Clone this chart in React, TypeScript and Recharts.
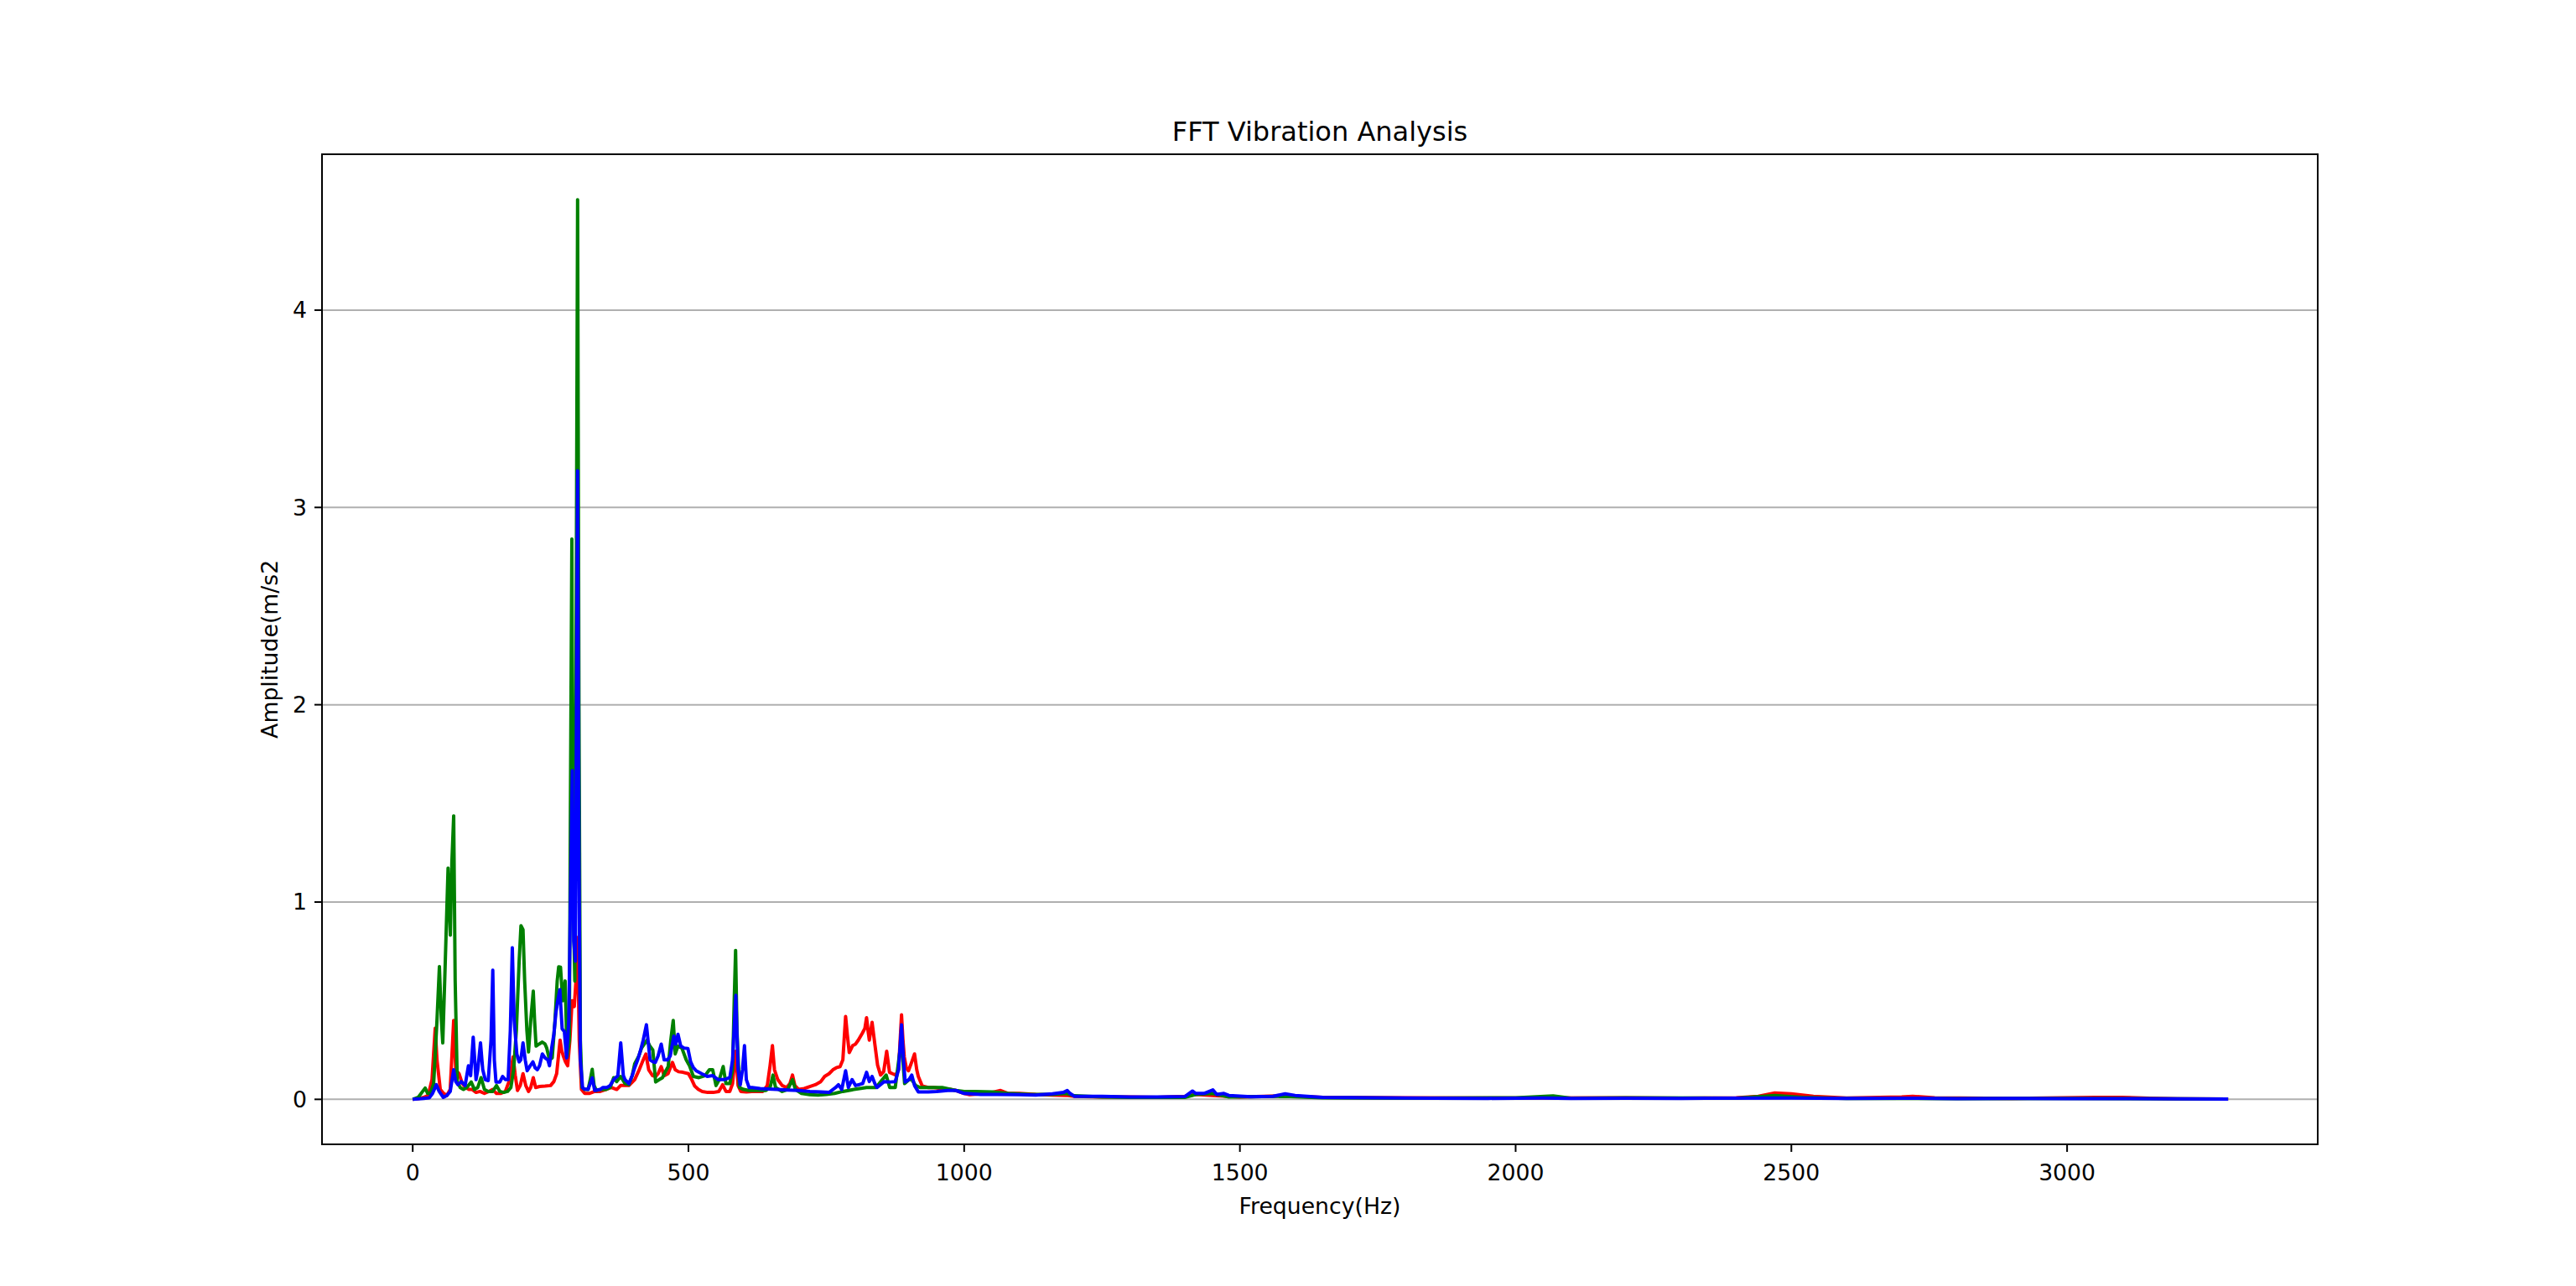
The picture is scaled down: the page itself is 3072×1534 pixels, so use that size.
import React from "react";
import { LineChart, Line, XAxis, YAxis, CartesianGrid, ReferenceArea } from "recharts";

const X_TICKS = [0, 500, 1000, 1500, 2000, 2500, 3000];
const Y_TICKS = [0, 1, 2, 3, 4];

// red channel
const redFreq = [0, 10, 20, 28, 35, 40.8, 44, 50, 56, 62, 68, 74.3, 78, 84, 90, 96, 102, 108, 115, 122, 130, 138, 145, 152, 160, 168, 176, 182, 186, 190, 195, 200, 205, 210, 214, 218.6, 223, 230, 240, 250, 256, 261, 267.3, 270, 273, 277, 281, 285, 289, 293, 296, 299, 302, 306, 312, 320, 330, 340, 350, 360, 370, 377, 385, 392, 402.5, 410, 418, 422.8, 428, 435, 440.5, 445, 450.6, 456, 463, 471, 476, 482, 490, 500, 506, 511.4, 518, 525, 535, 545, 555, 562, 568, 575, 580, 585.5, 590, 595, 605, 615, 625, 635, 643, 648, 652.3, 656, 662, 670, 678, 684, 688.7, 693, 700, 710, 720, 730, 740, 747, 755, 762, 768, 775, 780, 785, 788, 791.6, 797.7, 803, 808, 815.5, 820, 823, 826, 828, 833, 838, 843, 848.4, 854, 859.5, 864.6, 870, 876, 881, 886.4, 889, 891.4, 895, 899, 905, 910, 914, 916.8, 924, 935, 945, 960, 975, 985, 1000, 1010, 1030, 1050, 1066, 1080, 1100, 1130, 1160, 1185, 1200, 1250, 1300, 1350, 1400, 1420, 1450, 1500, 1580, 1650, 1800, 2000, 2200, 2300, 2400, 2440, 2470, 2500, 2540, 2600, 2700, 2720, 2760, 2900, 3050, 3100, 3150, 3200, 3292];
const redAmp = [0, 0.003, 0.01, 0.02, 0.1, 0.36, 0.2, 0.05, 0.03, 0.02, 0.05, 0.4, 0.15, 0.13, 0.08, 0.06, 0.05, 0.05, 0.035, 0.04, 0.03, 0.04, 0.05, 0.03, 0.03, 0.04, 0.1, 0.215, 0.12, 0.045, 0.07, 0.13, 0.07, 0.04, 0.06, 0.11, 0.06, 0.065, 0.067, 0.07, 0.09, 0.13, 0.3, 0.25, 0.22, 0.19, 0.17, 0.3, 0.5, 0.47, 0.6, 0.82, 0.3, 0.05, 0.03, 0.03, 0.04, 0.04, 0.05, 0.06, 0.05, 0.07, 0.07, 0.07, 0.1, 0.145, 0.2, 0.23, 0.15, 0.12, 0.116, 0.13, 0.166, 0.12, 0.13, 0.187, 0.15, 0.14, 0.137, 0.13, 0.1, 0.067, 0.05, 0.04, 0.035, 0.035, 0.04, 0.074, 0.04, 0.04, 0.08, 0.244, 0.07, 0.04, 0.038, 0.04, 0.04, 0.04, 0.07, 0.17, 0.272, 0.15, 0.1, 0.07, 0.06, 0.08, 0.123, 0.07, 0.05, 0.055, 0.065, 0.074, 0.09, 0.116, 0.13, 0.15, 0.16, 0.166, 0.2, 0.42, 0.33, 0.237, 0.272, 0.28, 0.3, 0.336, 0.36, 0.414, 0.34, 0.3, 0.39, 0.28, 0.173, 0.123, 0.14, 0.244, 0.137, 0.13, 0.123, 0.15, 0.428, 0.3, 0.215, 0.16, 0.145, 0.19, 0.23, 0.15, 0.116, 0.067, 0.06, 0.06, 0.055, 0.05, 0.045, 0.03, 0.024, 0.028, 0.035, 0.045, 0.03, 0.03, 0.025, 0.022, 0.02, 0.015, 0.012, 0.012, 0.01, 0.015, 0.025, 0.02, 0.012, 0.018, 0.01, 0.008, 0.007, 0.008, 0.006, 0.008, 0.015, 0.032, 0.028, 0.015, 0.007, 0.012, 0.015, 0.008, 0.005, 0.01, 0.01, 0.006, 0.003, 0.001];

// green channel
const greenFreq = [0, 10, 18, 22.6, 27, 32, 38, 44, 48.4, 52, 54.5, 58, 64.1, 68.2, 71, 74.3, 77, 80.8, 86, 92, 98, 106, 112, 118, 124, 130, 137, 145, 152, 158, 165, 172, 178, 183, 188, 193, 196.3, 200, 203, 207, 210, 214, 218.6, 221, 223.7, 229, 235, 240, 243, 248, 253, 258, 262, 264.7, 268, 272, 276.4, 280, 284, 286, 288.6, 291, 294, 296.5, 299, 301.5, 304, 307, 312, 318, 322, 325.5, 329, 333, 340, 350, 358, 364.5, 370, 377, 385, 392, 398, 402.5, 410, 415, 420, 425, 430, 435.4, 440.5, 447, 453, 458, 463.3, 468, 472.4, 476, 481, 488, 496, 502, 509, 519, 530, 538, 544, 550, 556, 563, 568, 575, 580, 583, 585.5, 588, 592.5, 600, 610, 620, 630, 640, 648, 653.3, 658, 670, 680, 688.7, 694, 705, 720, 735, 750, 765, 780, 800, 823, 840, 858.5, 865, 875, 886, 892, 900, 905, 912, 920, 940, 960, 985, 1000, 1020, 1051, 1080, 1120, 1160, 1185, 1200, 1250, 1300, 1400, 1420, 1450, 1480, 1580, 1650, 1800, 2000, 2068, 2100, 2200, 2400, 2470, 2520, 2600, 2800, 3000, 3200, 3292];
const greenAmp = [0, 0.01, 0.04, 0.057, 0.03, 0.03, 0.08, 0.4, 0.673, 0.4, 0.286, 0.6, 1.172, 0.832, 1.2, 1.437, 0.6, 0.09, 0.06, 0.05, 0.06, 0.088, 0.05, 0.06, 0.11, 0.05, 0.04, 0.04, 0.07, 0.04, 0.035, 0.04, 0.06, 0.15, 0.35, 0.7, 0.88, 0.86, 0.6, 0.35, 0.24, 0.4, 0.548, 0.4, 0.27, 0.28, 0.29, 0.28, 0.26, 0.2, 0.21, 0.4, 0.6, 0.672, 0.67, 0.5, 0.6, 0.215, 0.3, 1.5, 2.84, 1.0, 0.6, 2.5, 4.56, 2.0, 0.3, 0.06, 0.05, 0.05, 0.1, 0.152, 0.07, 0.045, 0.05, 0.05, 0.06, 0.11, 0.09, 0.116, 0.08, 0.074, 0.12, 0.18, 0.22, 0.26, 0.28, 0.3, 0.27, 0.25, 0.088, 0.1, 0.11, 0.14, 0.166, 0.3, 0.4, 0.23, 0.27, 0.26, 0.2, 0.17, 0.116, 0.11, 0.12, 0.15, 0.15, 0.07, 0.1, 0.166, 0.08, 0.08, 0.15, 0.5, 0.755, 0.35, 0.06, 0.05, 0.045, 0.045, 0.045, 0.045, 0.06, 0.123, 0.06, 0.04, 0.05, 0.1, 0.05, 0.03, 0.024, 0.022, 0.025, 0.03, 0.04, 0.05, 0.06, 0.06, 0.123, 0.06, 0.06, 0.3, 0.08, 0.1, 0.1, 0.07, 0.06, 0.06, 0.06, 0.045, 0.04, 0.04, 0.038, 0.03, 0.025, 0.025, 0.03, 0.018, 0.012, 0.01, 0.01, 0.025, 0.03, 0.012, 0.015, 0.008, 0.006, 0.008, 0.017, 0.006, 0.008, 0.006, 0.02, 0.01, 0.005, 0.004, 0.005, 0.003, 0.001];

// blue channel
const blueFreq = [0, 10, 20, 30, 36, 42.9, 48, 55.5, 62, 68, 74.3, 78, 82, 88, 95, 101, 105, 109.7, 114.8, 118, 122.9, 127, 131.5, 137, 142, 145.2, 148, 151, 158, 163, 168, 173, 177, 180.6, 184, 188.8, 193, 196, 200, 204, 207.5, 213, 218, 222, 226, 230, 235, 240, 245, 248, 252, 256, 259.7, 263, 266.8, 269, 271, 275, 279, 283, 286, 289.4, 292, 295, 297, 299, 301.5, 304, 308, 311, 318, 325.5, 330, 340, 345, 352, 358, 364.5, 372, 377.2, 382, 385, 392, 398, 402.5, 408, 412.7, 418, 423.8, 430.4, 436, 440, 445, 450.6, 456, 462, 467, 473.4, 477, 481, 486, 492, 499, 504, 509, 514, 524, 534, 544, 554, 565, 575, 580, 585.9, 590, 594, 598, 601.6, 605, 610, 615.3, 630, 645, 660, 680, 700, 720, 740, 755, 767, 772, 778, 785, 790, 796.7, 803, 810, 816, 823, 828, 833, 838, 842, 855, 866, 875, 881, 886.4, 890, 893, 900, 905, 910, 916.8, 935, 950, 970, 985, 1000, 1030, 1060, 1100, 1130, 1160, 1180, 1187, 1192, 1200, 1250, 1300, 1350, 1400, 1414, 1420, 1435, 1451, 1458, 1471, 1480, 1520, 1560, 1582, 1600, 1650, 1750, 1850, 1950, 2050, 2100, 2200, 2300, 2500, 2600, 2700, 2800, 2900, 3000, 3100, 3200, 3292];
const blueAmp = [0, 0.002, 0.005, 0.008, 0.03, 0.074, 0.04, 0.01, 0.02, 0.04, 0.15, 0.09, 0.074, 0.09, 0.07, 0.17, 0.12, 0.315, 0.1, 0.15, 0.286, 0.15, 0.1, 0.095, 0.3, 0.655, 0.2, 0.088, 0.088, 0.116, 0.1, 0.1, 0.35, 0.768, 0.4, 0.23, 0.19, 0.2, 0.286, 0.2, 0.145, 0.17, 0.19, 0.16, 0.15, 0.17, 0.23, 0.21, 0.2, 0.17, 0.26, 0.33, 0.44, 0.5, 0.556, 0.45, 0.357, 0.343, 0.21, 0.4, 1.0, 1.666, 0.8, 0.7, 2.0, 3.186, 1.2, 0.2, 0.06, 0.052, 0.05, 0.109, 0.045, 0.05, 0.06, 0.06, 0.07, 0.1, 0.12, 0.286, 0.12, 0.1, 0.08, 0.12, 0.16, 0.2, 0.244, 0.3, 0.378, 0.2, 0.19, 0.187, 0.22, 0.28, 0.2, 0.2, 0.22, 0.32, 0.28, 0.33, 0.27, 0.26, 0.258, 0.19, 0.16, 0.145, 0.13, 0.116, 0.12, 0.1, 0.1, 0.11, 0.2, 0.527, 0.15, 0.074, 0.15, 0.272, 0.1, 0.06, 0.06, 0.055, 0.052, 0.05, 0.047, 0.045, 0.04, 0.038, 0.035, 0.06, 0.074, 0.05, 0.145, 0.06, 0.1, 0.07, 0.075, 0.08, 0.137, 0.09, 0.116, 0.08, 0.06, 0.09, 0.088, 0.09, 0.15, 0.378, 0.2, 0.088, 0.1, 0.123, 0.07, 0.038, 0.038, 0.04, 0.045, 0.045, 0.03, 0.025, 0.025, 0.024, 0.022, 0.028, 0.035, 0.045, 0.03, 0.015, 0.015, 0.012, 0.012, 0.014, 0.042, 0.03, 0.03, 0.048, 0.025, 0.03, 0.02, 0.013, 0.015, 0.028, 0.02, 0.01, 0.008, 0.006, 0.005, 0.007, 0.005, 0.006, 0.005, 0.007, 0.005, 0.006, 0.004, 0.005, 0.004, 0.004, 0.003, 0.001];

const toPoints = (freq: number[], amp: number[]) => freq.map((f, i) => ({ f, a: amp[i] }));

const redData = toPoints(redFreq, redAmp);
const greenData = toPoints(greenFreq, greenAmp);
const blueData = toPoints(blueFreq, blueAmp);

const X_DOMAIN = [-164.5, 3454.5];
const Y_DOMAIN = [-0.228, 4.79];

const FONT = "'DejaVu Sans', sans-serif";
const tickStyle = { fill: "#000", fontSize: 26.7, fontFamily: FONT };

export default function App() {
    return (
        <div style={{ position: "absolute", left: 0, top: 0, width: 3072, height: 1534, background: "#fff", fontFamily: FONT }}>
            <LineChart width={3072} height={1534} margin={{ top: 184, right: 308, bottom: 109, left: 324 }}>
                <CartesianGrid vertical={false} stroke="#b0b0b0" strokeWidth={2} />
                <XAxis
                    type="number"
                    dataKey="f"
                    domain={X_DOMAIN}
                    ticks={X_TICKS}
                    allowDataOverflow
                    height={60}
                    axisLine={false}
                    stroke="#000"
                    tickLine={{ stroke: "#000", strokeWidth: 2 }}
                    tickSize={9}
                    tickMargin={15}
                    tick={tickStyle}
                />
                <YAxis
                    type="number"
                    domain={Y_DOMAIN}
                    ticks={Y_TICKS}
                    allowDataOverflow
                    width={60}
                    axisLine={false}
                    stroke="#000"
                    tickLine={{ stroke: "#000", strokeWidth: 2 }}
                    tickSize={9}
                    tickMargin={9}
                    tick={tickStyle}
                />
                <Line data={redData} dataKey="a" type="linear" stroke="#ff0000" strokeWidth={4} strokeLinejoin="round" dot={false} isAnimationActive={false} />
                <Line data={greenData} dataKey="a" type="linear" stroke="#008000" strokeWidth={4} strokeLinejoin="round" dot={false} isAnimationActive={false} />
                <Line data={blueData} dataKey="a" type="linear" stroke="#0000ff" strokeWidth={4} strokeLinejoin="round" dot={false} isAnimationActive={false} />
                <ReferenceArea x1={X_DOMAIN[0]} x2={X_DOMAIN[1]} y1={Y_DOMAIN[0]} y2={Y_DOMAIN[1]} fill="none" stroke="#000" strokeWidth={2} />
            </LineChart>
            <div style={{ position: "absolute", left: 1074, top: 141, width: 1000, textAlign: "center", fontSize: 32, lineHeight: 1, color: "#000" }}>
                FFT Vibration Analysis
            </div>
            <div style={{ position: "absolute", left: 1074, top: 1426, width: 1000, textAlign: "center", fontSize: 26.7, lineHeight: 1, color: "#000" }}>
                Frequency(Hz)
            </div>
            <div style={{ position: "absolute", left: 322 - 300, top: 774.5 - 13.35, width: 600, height: 26.7, textAlign: "center", fontSize: 26.7, lineHeight: 1, color: "#000", transform: "rotate(-90deg)" }}>
                Amplitude(m/s2
            </div>
        </div>
    );
}
